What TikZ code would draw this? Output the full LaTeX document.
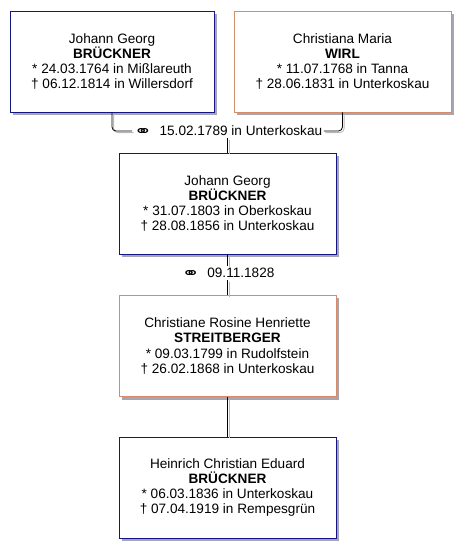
\documentclass[tikz,border=0pt]{standalone}
\usepackage{fontspec}
\setmainfont{Liberation Sans}
\newfontfamily\symfont{DejaVu Sans}
\usetikzlibrary{backgrounds}
\definecolor{bluebd}{RGB}{20,20,130}
\definecolor{orangebd}{RGB}{215,140,105}
\definecolor{shadowc}{RGB}{165,165,180}
\definecolor{lineshadow}{RGB}{185,185,185}
\tikzset{
  person/.style={draw, line width=0.9pt, fill=white, minimum width=#1, minimum height=101pt,
    align=center, inner sep=0pt, font=\fontsize{13.6}{15.2}\selectfont},
  male/.style={person=#1, draw=bluebd},
  female/.style={person=#1, draw=orangebd},
  shadowbox/.style={fill=shadowc},
  conn/.style={draw=black, line width=0.8pt},
  connshadow/.style={draw=lineshadow, line width=0.8pt},
  mlabel/.style={font=\fontsize{13.6}{15}\selectfont, inner sep=1.5pt}
}
\newcommand{\marr}{\raisebox{-1.2pt}{\scalebox{1.45}[1]{\symfont\fontsize{15}{15}\selectfont ⚭}}}
\begin{document}
\begin{tikzpicture}[x=1pt,y=-1pt]
\useasboundingbox (0,0) rectangle (470,558);
% boxes
\node[male=204pt] (a) at (112,61.5) {Johann Georg\\\textbf{BRÜCKNER}\\* 24.03.1764 in Mißlareuth\\† 06.12.1814 in Willersdorf};
\node[female=217pt] (b) at (342.5,61.5) {Christiana Maria\\\textbf{WIRL}\\* 11.07.1768 in Tanna\\† 28.06.1831 in Unterkoskau};
\node[male=217pt] (c) at (227.5,203.5) {Johann Georg\\\textbf{BRÜCKNER}\\* 31.07.1803 in Oberkoskau\\† 28.08.1856 in Unterkoskau};
\node[female=217pt] (d) at (227.5,346) {Christiane Rosine Henriette\\\textbf{STREITBERGER}\\* 09.03.1799 in Rudolfstein\\† 26.02.1868 in Unterkoskau};
\node[male=217pt] (e) at (227.5,487.5) {Heinrich Christian Eduard\\\textbf{BRÜCKNER}\\* 06.03.1836 in Unterkoskau\\† 07.04.1919 in Rempesgrün};
\node[mlabel] (m1) at (228,131) {\marr\ \ 15.02.1789 in Unterkoskau};
\node[mlabel] (m2) at (228,273) {\marr\ \ 09.11.1828};
% background: white page and box shadows
\begin{scope}[on background layer]
\fill[white] (0,0) rectangle (470,558);
\foreach \n in {a,b,c,d,e}{
  \begin{scope}[transform canvas={xshift=3pt,yshift=-3pt}]
  \fill[shadowbox] (\n.south west) rectangle (\n.north east);
  \end{scope}
}
\end{scope}
% connector shadows
\begin{scope}[transform canvas={xshift=1.6pt,yshift=-1.6pt}]
\draw[connshadow, rounded corners=4pt] (a.south) |- (m1.west);
\draw[connshadow, rounded corners=4pt] (b.south) |- (m1.east);
\draw[connshadow] (m1.south -| c.north) -- (c.north);
\draw[connshadow] (c.south) -- (m2.north -| c.south);
\draw[connshadow] (m2.south -| d.north) -- (d.north);
\draw[connshadow] (d.south) -- (e.north);
\end{scope}
% connectors
\draw[conn, rounded corners=4pt] (a.south) |- (m1.west);
\draw[conn, rounded corners=4pt] (b.south) |- (m1.east);
\draw[conn] (m1.south -| c.north) -- (c.north);
\draw[conn] (c.south) -- (m2.north -| c.south);
\draw[conn] (m2.south -| d.north) -- (d.north);
\draw[conn] (d.south) -- (e.north);
\end{tikzpicture}
\end{document}
